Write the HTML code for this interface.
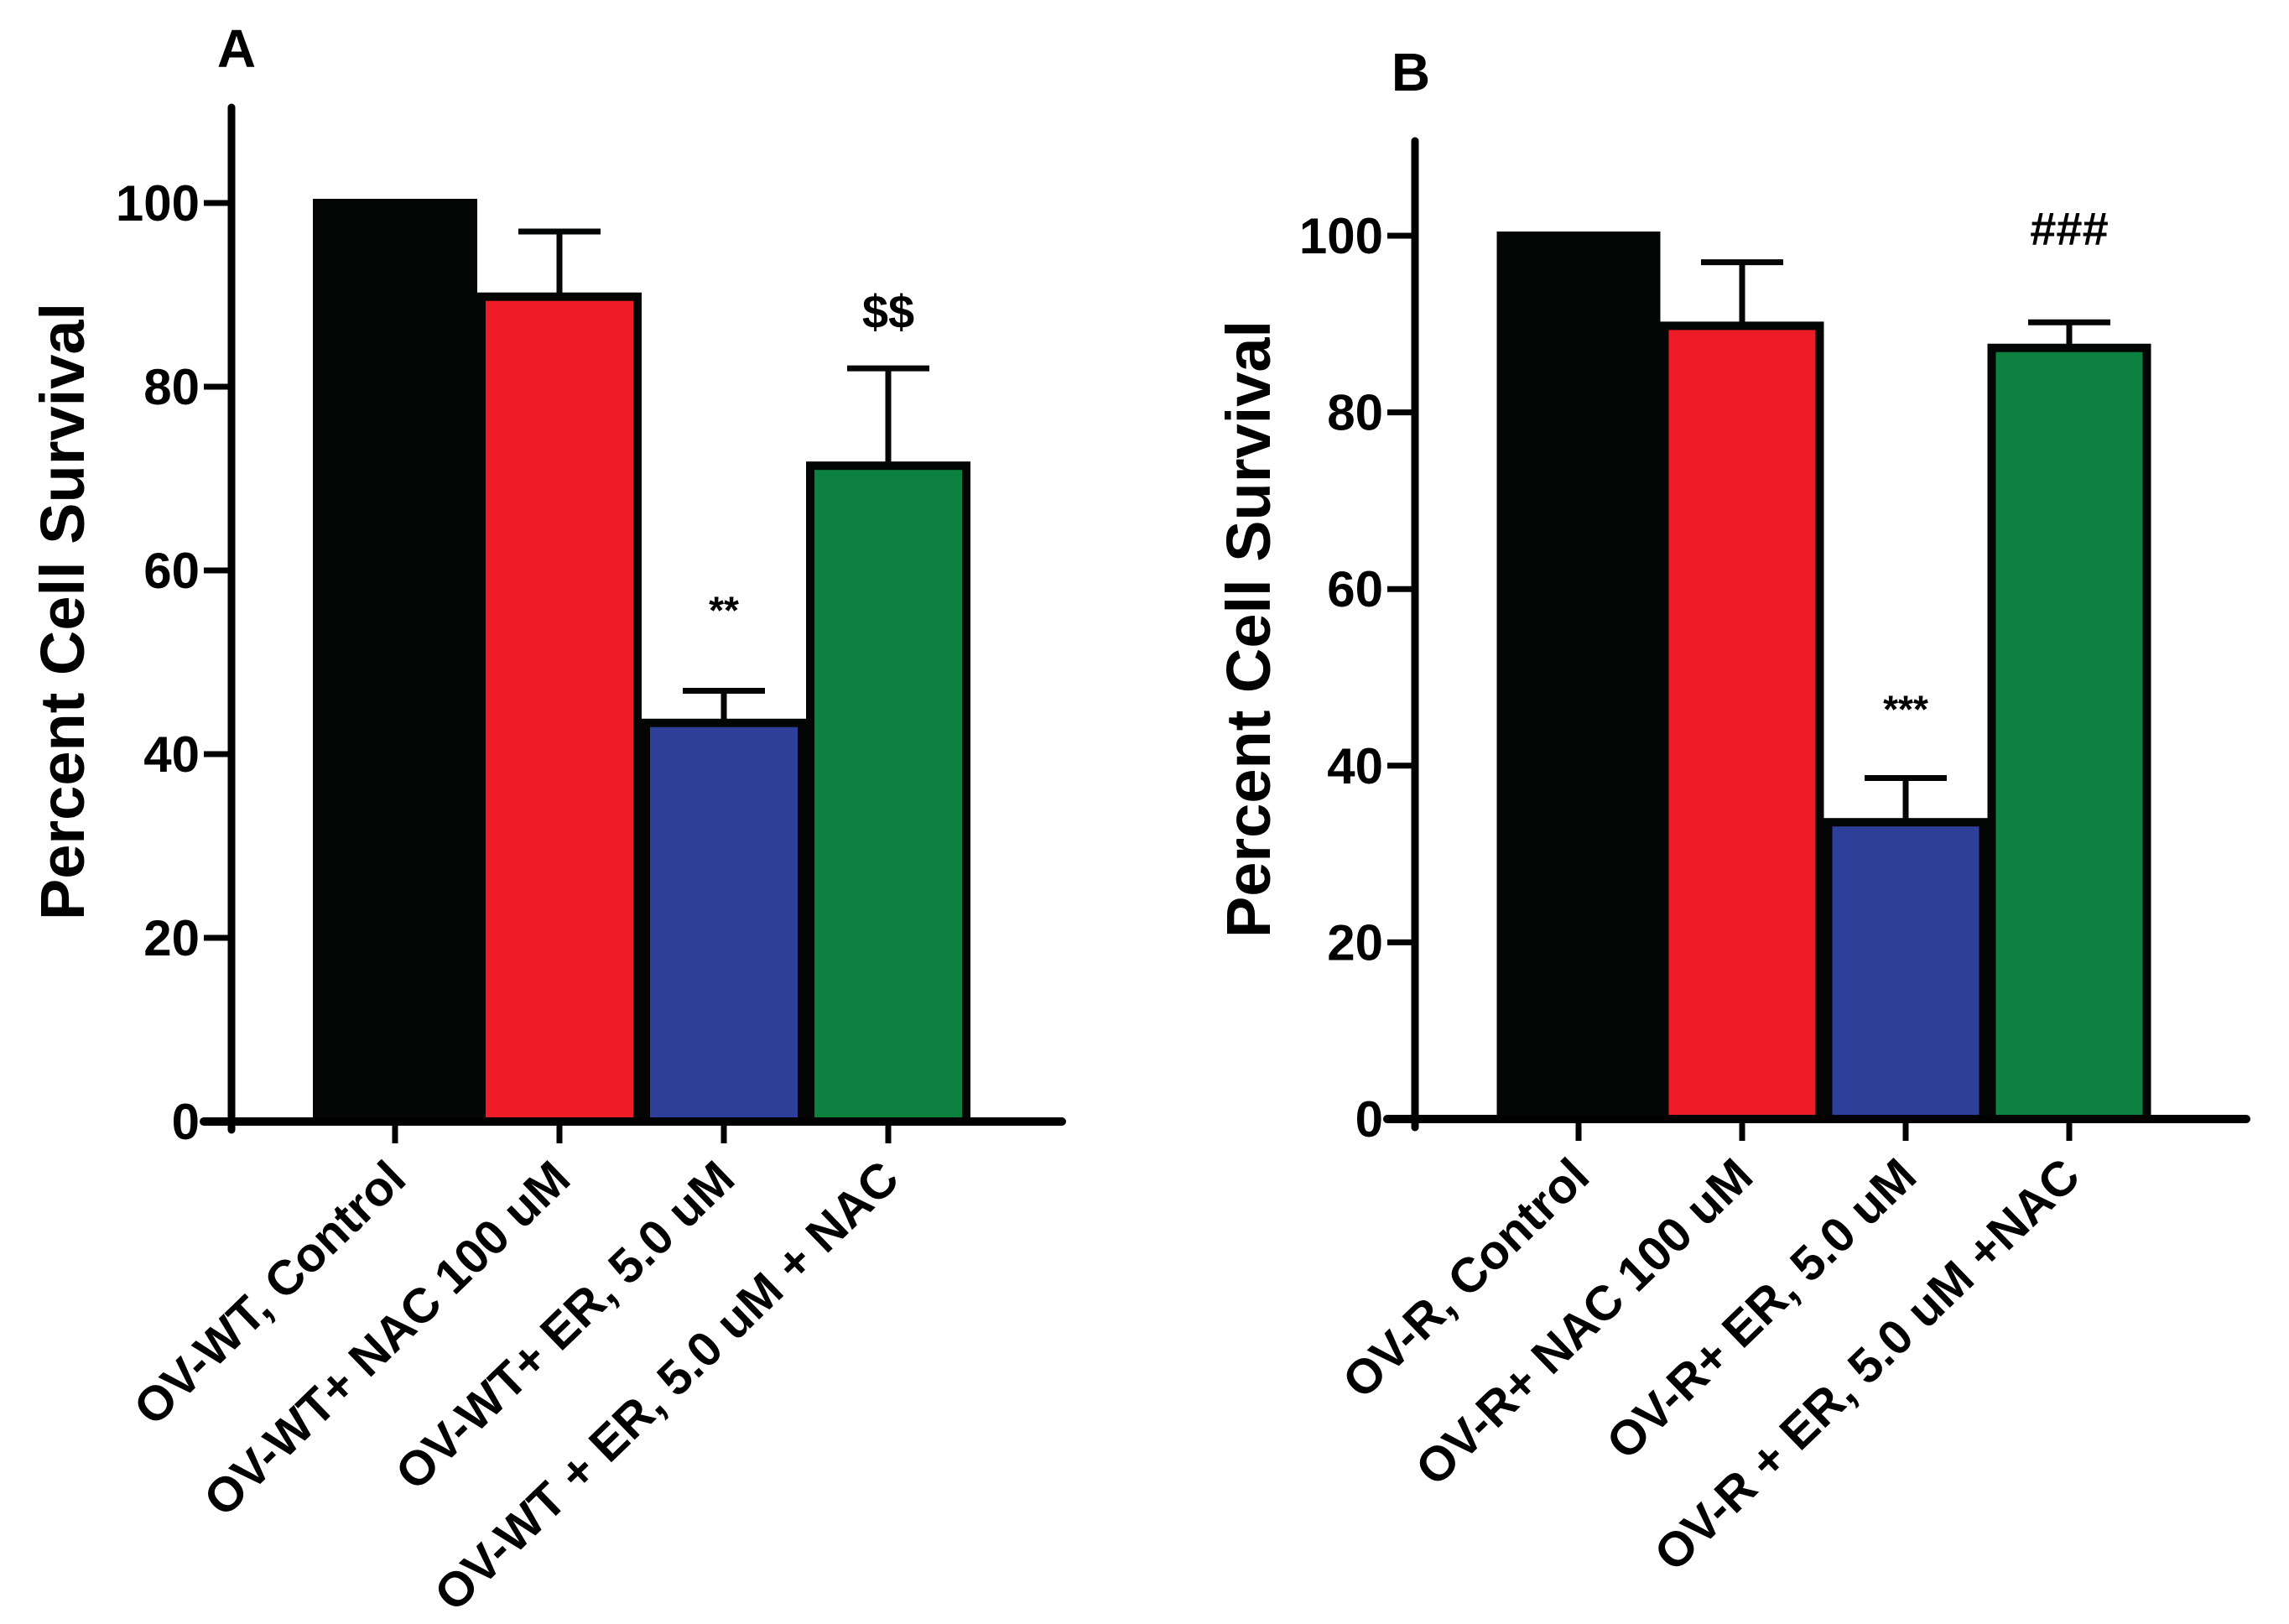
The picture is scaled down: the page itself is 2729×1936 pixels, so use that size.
<!DOCTYPE html>
<html><head><meta charset="utf-8">
<style>
html,body{margin:0;padding:0;background:#fff;}
svg{display:block;}
text{font-family:"Liberation Sans",Arial,sans-serif;font-weight:bold;fill:#000;}
</style></head>
<body>
<svg id="chart" width="2729" height="1936" viewBox="0 0 2729 1936" xmlns="http://www.w3.org/2000/svg">
<rect x="0" y="0" width="2729" height="1936" fill="#fff"/>
</svg>
<script>
const categoriesA = ["OV-WT, Control","OV-WT+ NAC 100 uM","OV-WT+ ER, 5.0 uM","OV-WT + ER, 5.0 uM + NAC"];
const valuesA = [100, 89.8, 43.4, 71.4];
const errorsA = [0, 7.1, 3.5, 10.6];
const annotationsA = ["", "", "**", "$$"];
const categoriesB = ["OV-R, Control","OV-R+ NAC 100 uM","OV-R+ ER, 5.0 uM","OV-R + ER, 5.0 uM +NAC"];
const valuesB = [100, 89.8, 33.6, 87.3];
const errorsB = [0, 7.2, 5.0, 2.9];
const annotationsB = ["", "", "***", "###"];
const yTicks = [0, 20, 40, 60, 80, 100];
const colors = ["#040605", "#ed1c27", "#2d3f98", "#0d8140"];

const NS = "http://www.w3.org/2000/svg";
const svg = document.getElementById('chart');
function mk(tag, attrs, parent) {
  const e = document.createElementNS(NS, tag);
  for (const k in attrs) e.setAttribute(k, attrs[k]);
  (parent || svg).appendChild(e);
  return e;
}

function annOffset(s) {
  if (s === '**') return 80;
  if (s === '***') return 66;
  if (s === '###') return 92;
  return 48;
}

function panel(cfg, cats, vals, errs, ann) {
  const g = mk('g', {});
  
  
  const y = v => cfg.y0 - (cfg.y0 - cfg.y100) * v / 100;
  const x = i => cfg.x0 + i * cfg.step;

  const L = mk('text', {x: cfg.letterX, y: cfg.letterY, 'font-size': 64, 'text-anchor': 'middle'}, g);
  L.textContent = cfg.letter;
  
  

  cats.forEach((c, i) => {
    const bw = cfg.step;
    const r = mk('rect', {x: x(i) - bw / 2 + 5, y: y(vals[i]), width: bw - 10, height: y(0) - y(vals[i]),
      fill: colors[i], stroke: '#040605', 'stroke-width': 10}, g);
    
    
    if (errs[i] > 0) {
      const eg = mk('g', {}, g);
      
      
      mk('line', {x1: x(i), x2: x(i), y1: y(vals[i]), y2: y(vals[i] + errs[i]), stroke: '#040605', 'stroke-width': 7}, eg);
      mk('line', {x1: x(i) - 49, x2: x(i) + 49, y1: y(vals[i] + errs[i]), y2: y(vals[i] + errs[i]), stroke: '#040605', 'stroke-width': 7}, eg);
    }
    if (ann[i]) {
      const big = ann[i].indexOf('*') < 0;
      const t = mk('text', {x: x(i), y: y(vals[i] + errs[i]) - annOffset(ann[i]), 'font-size': big ? 56 : 46, 'text-anchor': 'middle'}, g);
      t.textContent = ann[i];
      
      
    }
    mk('line', {x1: x(i), x2: x(i), y1: y(0), y2: y(0) + 26, stroke: '#000', 'stroke-width': 7}, g);
    const lx = x(i) + 16, ly = y(0) + 72;
    const t = mk('text', {x: lx, y: ly, 'font-size': 58, 'text-anchor': 'end', transform: `rotate(-44 ${lx} ${ly})`}, g);
    t.textContent = c;
    
    
  });

  const ya = mk('line', {x1: cfg.ax, x2: cfg.ax, y1: cfg.top, y2: y(0) + 10, stroke: '#000', 'stroke-width': 9, 'stroke-linecap': 'round'}, g);
  
  
  const xa = mk('line', {x1: cfg.ax - 33, x2: cfg.right, y1: y(0), y2: y(0), stroke: '#000', 'stroke-width': 10, 'stroke-linecap': 'round'}, g);
  
  
  yTicks.forEach(v => {
    mk('line', {x1: cfg.ax - 33, x2: cfg.ax, y1: y(v), y2: y(v), stroke: '#000', 'stroke-width': 7}, g);
    const t = mk('text', {x: cfg.ax - 38, y: y(v) + 21, 'font-size': 60, 'text-anchor': 'end'}, g);
    t.textContent = v;
    
    
  });
  const yt = mk('text', {x: cfg.ylx, y: cfg.yly, 'font-size': 74, 'text-anchor': 'middle', transform: `rotate(-90 ${cfg.ylx} ${cfg.yly})`}, g);
  yt.textContent = 'Percent Cell Survival';
  
  
}

panel({name: 'panel-a', letter: 'A', letterX: 282, letterY: 80, ax: 276, top: 128, right: 1266,
  y0: 1337, y100: 242, x0: 471, step: 196, ylx: 100, yly: 729},
  categoriesA, valuesA, errorsA, annotationsA);
panel({name: 'panel-b', letter: 'B', letterX: 1682, letterY: 108, ax: 1687, top: 168, right: 2678,
  y0: 1334, y100: 281, x0: 1882, step: 195, ylx: 1514, yly: 750},
  categoriesB, valuesB, errorsB, annotationsB);
</script>
</body></html>
